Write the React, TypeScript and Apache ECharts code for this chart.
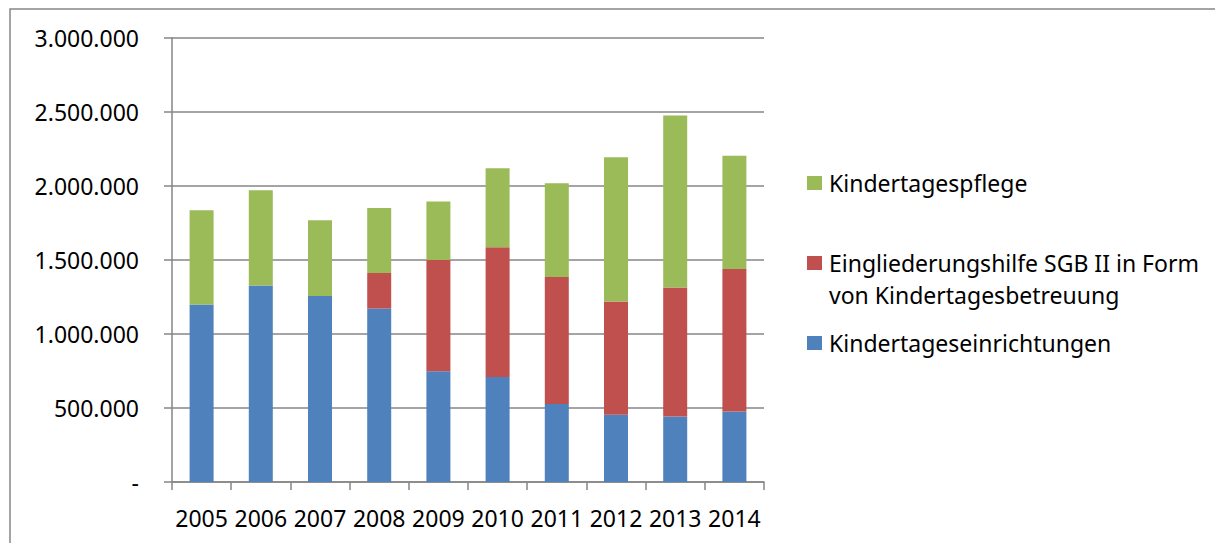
import React, { useEffect, useRef } from "react";
import * as echarts from "echarts";

const years = ["2005", "2006", "2007", "2008", "2009", "2010", "2011", "2012", "2013", "2014"];
const seriesNames = [
  "Kindertageseinrichtungen",
  "Eingliederungshilfe SGB II in Form von Kindertagesbetreuung",
  "Kindertagespflege",
];
const einrichtungen = [1200000, 1327000, 1257000, 1172000, 748000, 709000, 527000, 455000, 442000, 476000];
const eingliederung = [0, 0, 0, 240000, 752000, 877000, 858000, 764000, 872000, 963000];
const pflege = [636000, 644000, 511000, 439000, 395000, 534000, 633000, 975000, 1162000, 766000];
const yTicks = [0, 500000, 1000000, 1500000, 2000000, 2500000, 3000000];

const colors = ["#4F81BD", "#C0504D", "#9BBB59"];
const FONT = "Noto Sans";
const GRAY = "#868686";

function fmt(v: number): string {
  if (v === 0) return "-";
  return String(v).replace(/\B(?=(\d{3})+(?!\d))/g, ".");
}

export default function App() {
  const ref = useRef<HTMLDivElement>(null);
  useEffect(() => {
    if (!ref.current) return;
    const chart = echarts.init(ref.current, null, { renderer: "svg" });
    const data = [einrichtungen, eingliederung, pflege];
    const legendItems = [
      { color: colors[2], lines: ["Kindertagespflege"], cy: 183 },
      { color: colors[1], lines: ["Eingliederungshilfe SGB II in Form", "von Kindertagesbetreuung"], cy: 263 },
      { color: colors[0], lines: ["Kindertageseinrichtungen"], cy: 343 },
    ];
    const graphics: any[] = [
      {
        type: "rect",
        shape: { x: 10, y: 9, width: 1400, height: 700 },
        style: { fill: "none", stroke: GRAY, lineWidth: 1.5 },
        silent: true,
      },
    ];
    legendItems.forEach((it) => {
      graphics.push({
        type: "rect",
        shape: { x: 807, y: it.cy - 7, width: 15, height: 14 },
        style: { fill: it.color },
      });
      it.lines.forEach((ln, i) => {
        graphics.push({
          type: "text",
          x: 829,
          y: it.cy + i * 32,
          style: {
            text: ln,
            fill: "#000",
            font: `23px "${FONT}"`,
            textVerticalAlign: "middle",
            verticalAlign: "middle",
          },
        });
      });
    });
    chart.setOption({
      animation: false,
      backgroundColor: "#fff",
      textStyle: { fontFamily: FONT },
      grid: { left: 172, right: 451, top: 38, bottom: 61, containLabel: false },
      xAxis: {
        type: "category",
        data: years,
        boundaryGap: true,
        axisLine: { show: true, lineStyle: { color: GRAY, width: 1.5 } },
        axisTick: { show: true, length: 8, lineStyle: { color: GRAY, width: 1.5 } },
        axisLabel: { color: "#000", fontSize: 23, fontFamily: FONT, margin: 24, interval: 0 },
      },
      yAxis: {
        type: "value",
        min: yTicks[0],
        max: yTicks[yTicks.length - 1],
        interval: 500000,
        axisLine: { show: true, lineStyle: { color: GRAY, width: 1.5 } },
        axisTick: { show: true, length: 8, lineStyle: { color: GRAY, width: 1.5 } },
        splitLine: { show: true, lineStyle: { color: GRAY, width: 1.5 } },
        axisLabel: {
          color: "#000",
          fontSize: 23,
          fontFamily: FONT,
          margin: 33,
          formatter: (v: number) => fmt(v),
        },
      },
      series: data.map((d, i) => ({
        name: seriesNames[i],
        type: "bar",
        stack: "total",
        data: d,
        barWidth: 24,
        itemStyle: { color: colors[i] },
      })),
      graphic: graphics,
    });
    return () => chart.dispose();
  }, []);
  return (
    <div
      ref={ref}
      style={{ position: "fixed", left: 0, top: 0, width: 1215, height: 543 }}
    />
  );
}
